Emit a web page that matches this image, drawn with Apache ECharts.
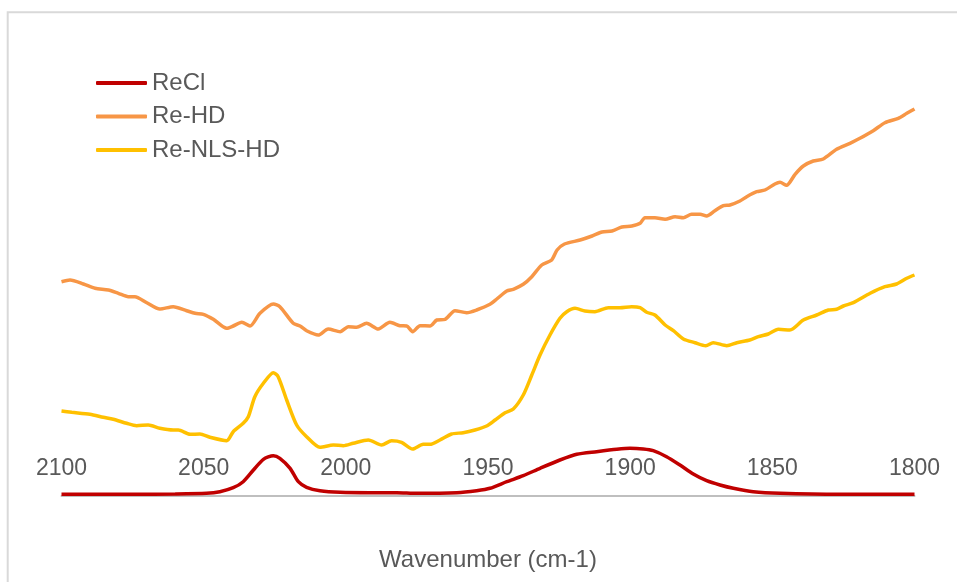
<!DOCTYPE html>
<html>
<head>
<meta charset="utf-8">
<script src="https://cdn.jsdelivr.net/npm/echarts@6/dist/echarts.min.js"></script>
<style>
html,body{margin:0;padding:0;background:#fff;}
#chart{width:957px;height:582px;}
</style>
</head>
<body>
<div id="chart"></div>
<script>
// Wavenumber axis ticks
const xTicks = [2100, 2050, 2000, 1950, 1900, 1850, 1800];
const seriesNames = ['ReCl', 'Re-HD', 'Re-NLS-HD'];

// ReCl
const reclWn = [2100, 2075, 2060, 2049, 2044.3, 2039.6, 2036.1, 2032.5, 2029, 2025.5, 2023.2, 2019.6, 2016.7, 2013.8, 2009.1, 2002, 1991.5, 1982.1, 1975.1, 1961, 1954, 1949.3, 1943.4, 1937.6, 1931.7, 1924.7, 1918.8, 1911.8, 1904.7, 1900.1, 1895.4, 1891.9, 1887.2, 1882.5, 1877.8, 1873.1, 1868.4, 1863.7, 1856.7, 1847.3, 1826.2, 1800];
const reclAbs = [0.017, 0.017, 0.02, 0.027, 0.043, 0.083, 0.143, 0.26, 0.367, 0.403, 0.377, 0.277, 0.143, 0.087, 0.053, 0.037, 0.033, 0.033, 0.027, 0.033, 0.053, 0.077, 0.143, 0.203, 0.277, 0.36, 0.417, 0.443, 0.467, 0.477, 0.47, 0.453, 0.393, 0.31, 0.22, 0.153, 0.11, 0.077, 0.043, 0.027, 0.017, 0.017];

// Re-HD
const reHdWn = [2100, 2097, 2092.3, 2088.2, 2083.5, 2080, 2076.5, 2074.2, 2070, 2065.4, 2060.7, 2056, 2053, 2050.1, 2046.6, 2041.9, 2039.6, 2036.6, 2033.7, 2030.2, 2025.5, 2023.2, 2018.5, 2016.1, 2013.8, 2009.7, 2006.2, 2002, 1999.1, 1996.2, 1992.7, 1988.6, 1984.5, 1981, 1978.6, 1976.5, 1973.9, 1970.4, 1968, 1965.1, 1961.6, 1957.5, 1954, 1949.3, 1946.9, 1943.4, 1941.1, 1937.6, 1934.6, 1931.1, 1927.6, 1925.7, 1923.1, 1917.6, 1913.4, 1909.9, 1906.4, 1902.9, 1899.4, 1896.5, 1894.8, 1891.3, 1887.7, 1884.2, 1881.3, 1878.4, 1875.4, 1873.1, 1870.2, 1867.2, 1864.9, 1861.4, 1859, 1855.5, 1852.6, 1849.1, 1847.3, 1845, 1842, 1839.1, 1835.6, 1832.1, 1827.4, 1822.7, 1819.2, 1814.5, 1810.4, 1805.7, 1802.7, 1800];
const reHdAbs = [2.143, 2.16, 2.12, 2.077, 2.06, 2.027, 1.993, 1.993, 1.933, 1.87, 1.893, 1.853, 1.827, 1.817, 1.767, 1.677, 1.70, 1.737, 1.70, 1.827, 1.92, 1.893, 1.727, 1.70, 1.653, 1.61, 1.67, 1.643, 1.693, 1.687, 1.727, 1.67, 1.737, 1.703, 1.70, 1.643, 1.703, 1.70, 1.76, 1.767, 1.853, 1.833, 1.86, 1.917, 1.97, 2.05, 2.067, 2.117, 2.193, 2.31, 2.36, 2.46, 2.52, 2.56, 2.60, 2.64, 2.65, 2.69, 2.70, 2.727, 2.783, 2.783, 2.767, 2.793, 2.783, 2.817, 2.817, 2.80, 2.853, 2.903, 2.91, 2.95, 2.993, 3.043, 3.06, 3.12, 3.137, 3.107, 3.217, 3.30, 3.35, 3.37, 3.467, 3.527, 3.577, 3.653, 3.733, 3.777, 3.827, 3.87];

// Re-NLS-HD
const reNlsWn = [2100, 2096.4, 2090, 2085.3, 2081.8, 2077.1, 2073.6, 2069.5, 2065.4, 2060.7, 2058.9, 2054.8, 2051.3, 2047.8, 2041.9, 2039.6, 2036.1, 2034.3, 2032, 2029, 2025.5, 2023.8, 2020.8, 2017.3, 2013.8, 2009.1, 2004.4, 2000.9, 1997.4, 1992.1, 1987.4, 1983.9, 1980.4, 1976.5, 1972.8, 1970.4, 1966.9, 1962.8, 1958.7, 1954.6, 1950.5, 1947.5, 1944, 1941.1, 1937.6, 1934.6, 1931.7, 1928.2, 1924.7, 1922.3, 1919.4, 1915.9, 1912.4, 1907.7, 1903.6, 1899.5, 1896.5, 1894.2, 1891.3, 1887.7, 1884.8, 1881.3, 1877.2, 1873.4, 1870.8, 1866, 1862.5, 1857.9, 1854.9, 1851.4, 1847.9, 1843.8, 1839.1, 1834.4, 1830.3, 1827.4, 1825, 1821.5, 1815.6, 1810.4, 1806.3, 1802.7, 1800];
const reNlsAbs = [0.85, 0.837, 0.817, 0.787, 0.767, 0.727, 0.703, 0.71, 0.677, 0.66, 0.66, 0.617, 0.62, 0.587, 0.553, 0.643, 0.727, 0.793, 0.993, 1.127, 1.233, 1.193, 0.96, 0.71, 0.593, 0.487, 0.51, 0.503, 0.527, 0.56, 0.51, 0.553, 0.537, 0.47, 0.517, 0.517, 0.56, 0.62, 0.633, 0.66, 0.70, 0.76, 0.833, 0.87, 1.01, 1.21, 1.41, 1.61, 1.777, 1.843, 1.877, 1.85, 1.843, 1.883, 1.883, 1.893, 1.883, 1.837, 1.81, 1.71, 1.653, 1.57, 1.533, 1.503, 1.533, 1.503, 1.533, 1.56, 1.593, 1.62, 1.667, 1.66, 1.76, 1.81, 1.86, 1.867, 1.90, 1.933, 2.027, 2.093, 2.12, 2.177, 2.21];

const zip = (a, b) => a.map((v, i) => [v, b[i]]);
const FONT = '"Liberation Sans", Arial, sans-serif';
const TEXT = '#595959';

const chart = echarts.init(document.getElementById('chart'), null, {renderer: 'canvas'});
chart.setOption({
  animation: false,
  backgroundColor: '#ffffff',
  textStyle: {fontFamily: FONT},
  graphic: [{
    type: 'rect', silent: true, z: -1,
    shape: {x: 7.7, y: 12.2, width: 1200, height: 1200},
    style: {fill: 'none', stroke: '#d9d9d9', lineWidth: 2}
  }],
  legend: {
    orient: 'vertical',
    left: 96, top: 71,
    padding: 0,
    itemWidth: 51, itemHeight: 4, itemGap: 9.5,
    icon: 'roundRect',
    data: seriesNames,
    textStyle: {fontSize: 24, color: TEXT, fontFamily: FONT}
  },
  grid: {left: 61.5, right: 42.5, top: 16, bottom: 86},
  xAxis: {
    type: 'value', min: 1800, max: 2100, interval: 50, inverse: true,
    name: 'Wavenumber (cm-1)', nameLocation: 'middle', nameGap: 52,
    nameTextStyle: {fontSize: 24, color: TEXT, fontFamily: FONT},
    axisLine: {show: true, onZero: false, lineStyle: {color: '#bfbfbf', width: 2}},
    axisTick: {show: false},
    splitLine: {show: false},
    axisLabel: {
      inside: true, margin: 16, fontSize: 23, color: TEXT, fontFamily: FONT,
      showMinLabel: true, showMaxLabel: true,
      formatter: v => xTicks.includes(v) ? String(v) : ''
    }
  },
  yAxis: {type: 'value', min: 0, max: 4.8, show: false, splitLine: {show: false}},
  series: [
    {name: seriesNames[0], type: 'line', data: zip(reclWn, reclAbs), showSymbol: false, smooth: 0.25, color: '#C00000', lineStyle: {width: 3.5, color: '#C00000'}, z: 4},
    {name: seriesNames[1], type: 'line', data: zip(reHdWn, reHdAbs), showSymbol: false, smooth: 0.25, color: '#F79646', lineStyle: {width: 3.5, color: '#F79646'}, z: 3},
    {name: seriesNames[2], type: 'line', data: zip(reNlsWn, reNlsAbs), showSymbol: false, smooth: 0.25, color: '#FFC000', lineStyle: {width: 3.5, color: '#FFC000'}, z: 3}
  ]
});
</script>
</body>
</html>
